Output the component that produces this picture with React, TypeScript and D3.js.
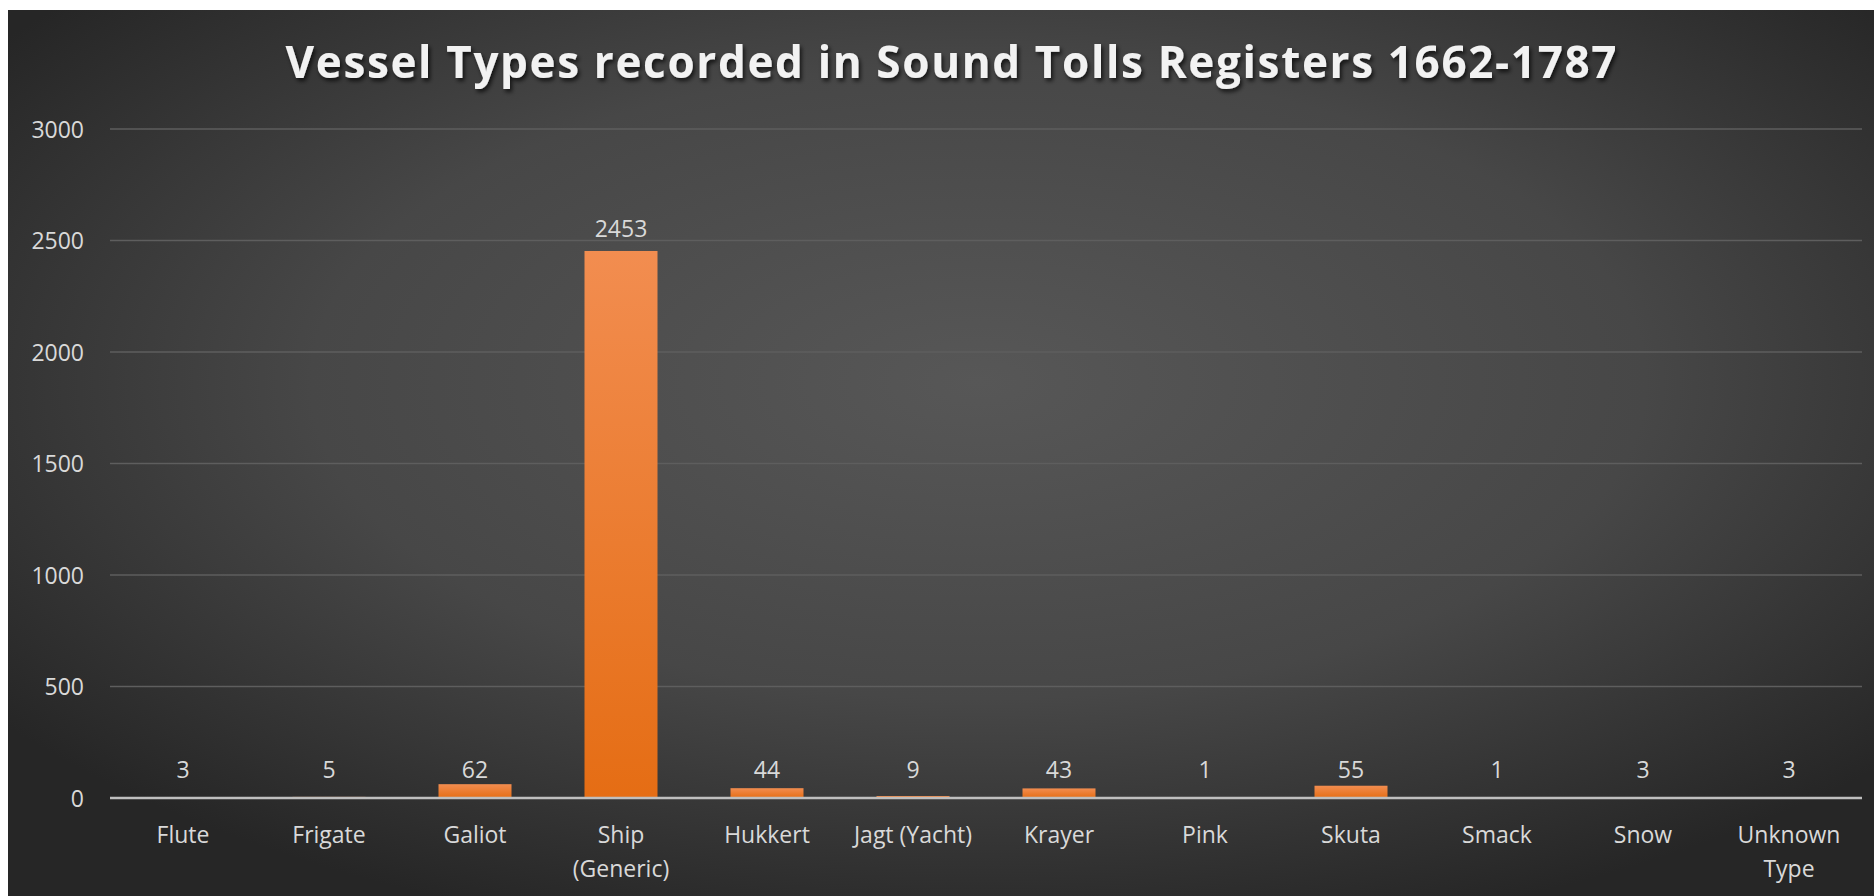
import React from "react";
import * as d3 from "d3";

const categories = [
  "Flute",
  "Frigate",
  "Galiot",
  "Ship\n(Generic)",
  "Hukkert",
  "Jagt (Yacht)",
  "Krayer",
  "Pink",
  "Skuta",
  "Smack",
  "Snow",
  "Unknown\nType",
];
const values = [3, 5, 62, 2453, 44, 9, 43, 1, 55, 1, 3, 3];
const yTicks = [0, 500, 1000, 1500, 2000, 2500, 3000];
const title = "Vessel Types recorded in Sound Tolls Registers 1662-1787";

const W = 1874;
const H = 896;
const FONT = "'Open Sans', 'Noto Sans', sans-serif";

export default function App() {
  const x = d3
    .scaleBand<string>()
    .domain(categories)
    .range([110, 1862])
    .paddingInner(0.5)
    .paddingOuter(0.25);
  const y = d3.scaleLinear().domain([0, 3000]).range([798, 129]);

  return (
    <svg
      width={W}
      height={H}
      style={{ position: "absolute", left: 0, top: 0 }}
      xmlns="http://www.w3.org/2000/svg"
    >
      <defs>
        <radialGradient id="bg" cx="52%" cy="42%" r="65%">
          <stop offset="0%" stopColor="#575757" />
          <stop offset="55%" stopColor="#474747" />
          <stop offset="100%" stopColor="#262626" />
        </radialGradient>
        <linearGradient id="bar" x1="0" y1="0" x2="0" y2="1">
          <stop offset="0%" stopColor="#f28d50" />
          <stop offset="100%" stopColor="#e56d14" />
        </linearGradient>
        <filter id="shadow" x="-5%" y="-20%" width="110%" height="150%">
          <feDropShadow dx="2" dy="3" stdDeviation="2" floodColor="#000" floodOpacity="0.7" />
        </filter>
      </defs>
      <rect x={0} y={0} width={W} height={H} fill="#ffffff" />
      <rect x={8} y={10} width={W - 8} height={H - 10} fill="url(#bg)" />

      <text
        x={951}
        y={78}
        textAnchor="middle"
        fontFamily={FONT}
        fontWeight={700}
        fontSize={44}
        fill="#f2f2f2"
        textLength={1331}
        lengthAdjust="spacing"
        filter="url(#shadow)"
      >
        {title}
      </text>

      {yTicks.map((t) => (
        <g key={t}>
          {t !== 0 && (
            <line
              x1={110}
              x2={1862}
              y1={y(t)}
              y2={y(t)}
              stroke="#5e5e5e"
              strokeWidth={1.5}
            />
          )}
          <text
            x={84}
            y={y(t) + 8.5}
            textAnchor="end"
            fontFamily={FONT}
            fontSize={23}
            fill="#d9d9d9"
          >
            {t}
          </text>
        </g>
      ))}

      {categories.map((c, i) => {
        const v = values[i];
        const bx = x(c)!;
        const top = y(v);
        const labelY = y(0) - top > 30 ? top - 14 : y(0) - 20;
        return (
          <g key={c}>
            <rect
              x={bx}
              y={top}
              width={x.bandwidth()}
              height={y(0) - top}
              fill="url(#bar)"
            />
            <text
              x={bx + x.bandwidth() / 2}
              y={labelY}
              textAnchor="middle"
              fontFamily={FONT}
              fontSize={23}
              fill="#d9d9d9"
            >
              {v}
            </text>
          </g>
        );
      })}

      <line x1={110} x2={1862} y1={y(0)} y2={y(0)} stroke="#bfbfbf" strokeWidth={2.5} />

      {categories.map((c) => {
        const cx = x(c)! + x.bandwidth() / 2;
        return (
          <text
            key={"l" + c}
            textAnchor="middle"
            fontFamily={FONT}
            fontSize={23}
            fill="#d9d9d9"
          >
            {c.split("\n").map((ln, j) => (
              <tspan key={j} x={cx} y={843 + j * 34}>
                {ln}
              </tspan>
            ))}
          </text>
        );
      })}
    </svg>
  );
}
